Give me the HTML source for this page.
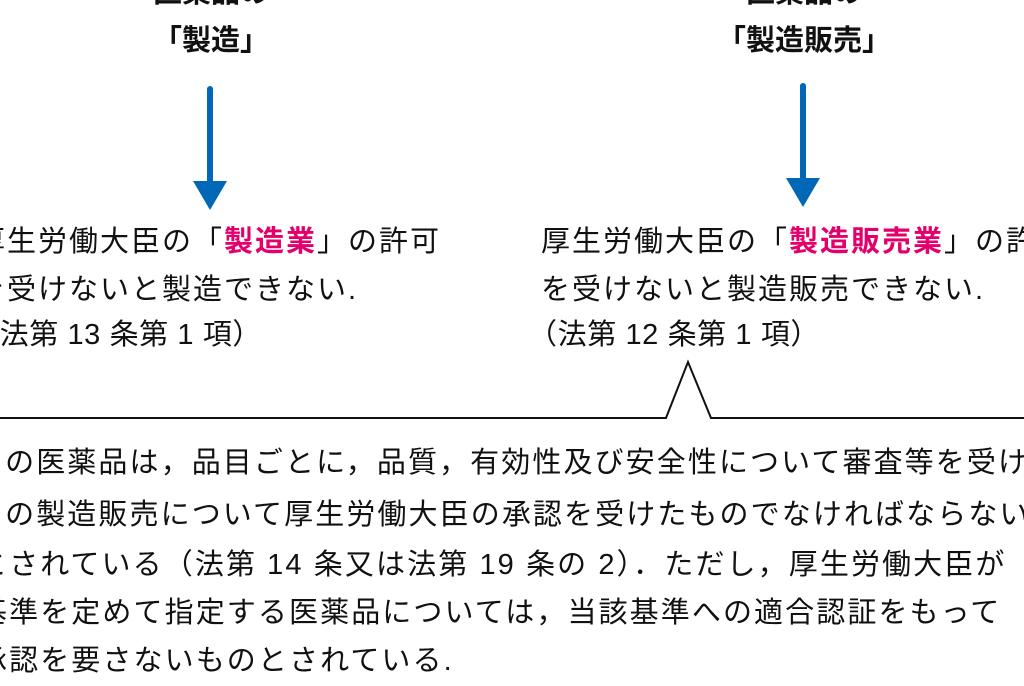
<!DOCTYPE html>
<html><head><meta charset="utf-8"><style>
html,body{margin:0;padding:0;width:1024px;height:686px;overflow:hidden;background:#fff;}
.t{position:absolute;white-space:nowrap;font-family:"Liberation Sans","Noto Sans CJK JP",sans-serif;font-size:29px;line-height:29px;color:#111;letter-spacing:2px;}
.bd{letter-spacing:2.1px;}
.n{letter-spacing:0.6px;}
.b{font-weight:bold;letter-spacing:0;}
.r{color:#e4006b;font-weight:bold;}
.c{text-align:center;width:300px;}
</style></head><body>
<div class="t b c" style="left:61px;top:-21px;">医薬品の</div>
<div class="t b c" style="left:61px;top:27px;">「製造」</div>
<div class="t b c" style="left:654px;top:-21px;">医薬品の</div>
<div class="t b c" style="left:654px;top:27px;">「製造販売」</div>
<svg width="1024" height="686" style="position:absolute;left:0;top:0">
<line x1="210" y1="89" x2="210" y2="184" stroke="#0068b7" stroke-width="6" stroke-linecap="round"/>
<polygon points="193,181 227,181 210,210" fill="#0068b7"/>
<line x1="803" y1="86" x2="803" y2="181" stroke="#0068b7" stroke-width="6" stroke-linecap="round"/>
<polygon points="786,178 820,178 803,207" fill="#0068b7"/>
<polyline points="0,418 666,418 688,362 711,418 1024,418" fill="none" stroke="#111" stroke-width="2"/>
</svg>
<div class="t" style="left:-24px;top:228px;">厚生労働大臣の「<span class="r">製造業</span>」の許可</div>
<div class="t" style="left:-24px;top:276px;">を受けないと製造できない.</div>
<div class="t n" style="left:-30px;top:321px;">（法第 13 条第 1 項）</div>
<div class="t" style="left:541px;top:228px;">厚生労働大臣の「<span class="r">製造販売業</span>」の許可</div>
<div class="t" style="left:541px;top:276px;">を受けないと製造販売できない.</div>
<div class="t n" style="left:528px;top:321px;">（法第 12 条第 1 項）</div>
<div class="t bd" style="left:-26px;top:449px;">その医薬品は，品目ごとに，品質，有効性及び安全性について審査等を受け</div>
<div class="t bd" style="left:-26px;top:501px;">その製造販売について厚生労働大臣の承認を受けたものでなければならない</div>
<div class="t bd" style="left:-22px;top:551px;">とされている（法第 14 条又は法第 19 条の 2）．ただし，厚生労働大臣が</div>
<div class="t bd" style="left:-22px;top:599px;">基準を定めて指定する医薬品については，当該基準への適合認証をもって</div>
<div class="t bd" style="left:-22px;top:647px;">承認を要さないものとされている.</div>
</body></html>
